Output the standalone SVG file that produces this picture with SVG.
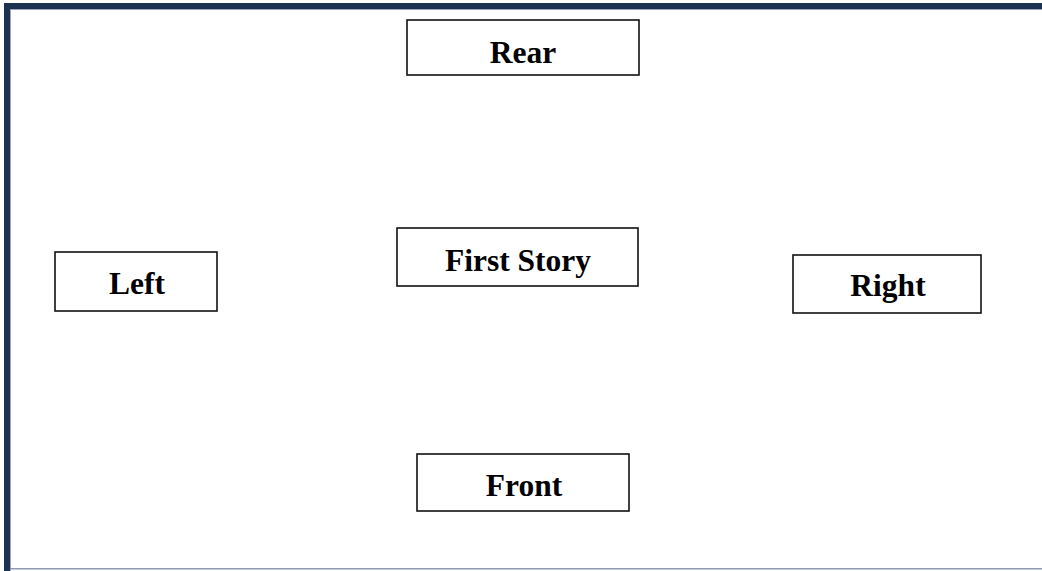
<svg xmlns="http://www.w3.org/2000/svg" width="1042" height="571" viewBox="0 0 1042 571">
<style>
.box{fill:#fff;stroke:#111;stroke-width:1.6}
.lbl{font-family:"Liberation Serif","Times New Roman",serif;font-weight:bold;font-size:31.5px;fill:#000;text-anchor:middle}
</style>
<rect x="0" y="0" width="1042" height="571" fill="#fff"/>
<g id="frame">
<rect x="4" y="3" width="1038" height="6" fill="#1b3350"/>
<rect x="4" y="3" width="6" height="568" fill="#1b3350"/>
<rect x="10" y="9" width="1032" height="1" fill="#9aa6b4"/>
<rect x="10" y="9" width="1" height="562" fill="#9aa6b4"/>
<rect x="10" y="568" width="1032" height="1.5" fill="#8d9bad"/>
</g>
<g id="connectors"></g>
<g id="rear"><rect class="box" x="407" y="20" width="232" height="55"/><text class="lbl" x="523" y="63">Rear</text></g>
<g id="first-story"><rect class="box" x="397" y="228" width="241" height="58"/><text class="lbl" x="518" y="271">First Story</text></g>
<g id="left"><rect class="box" x="55" y="252" width="162" height="59"/><text class="lbl" x="137" y="294">Left</text></g>
<g id="right"><rect class="box" x="793" y="255" width="188" height="58"/><text class="lbl" x="888" y="296">Right</text></g>
<g id="front"><rect class="box" x="417" y="454" width="212" height="57"/><text class="lbl" x="524" y="496">Front</text></g>
</svg>
